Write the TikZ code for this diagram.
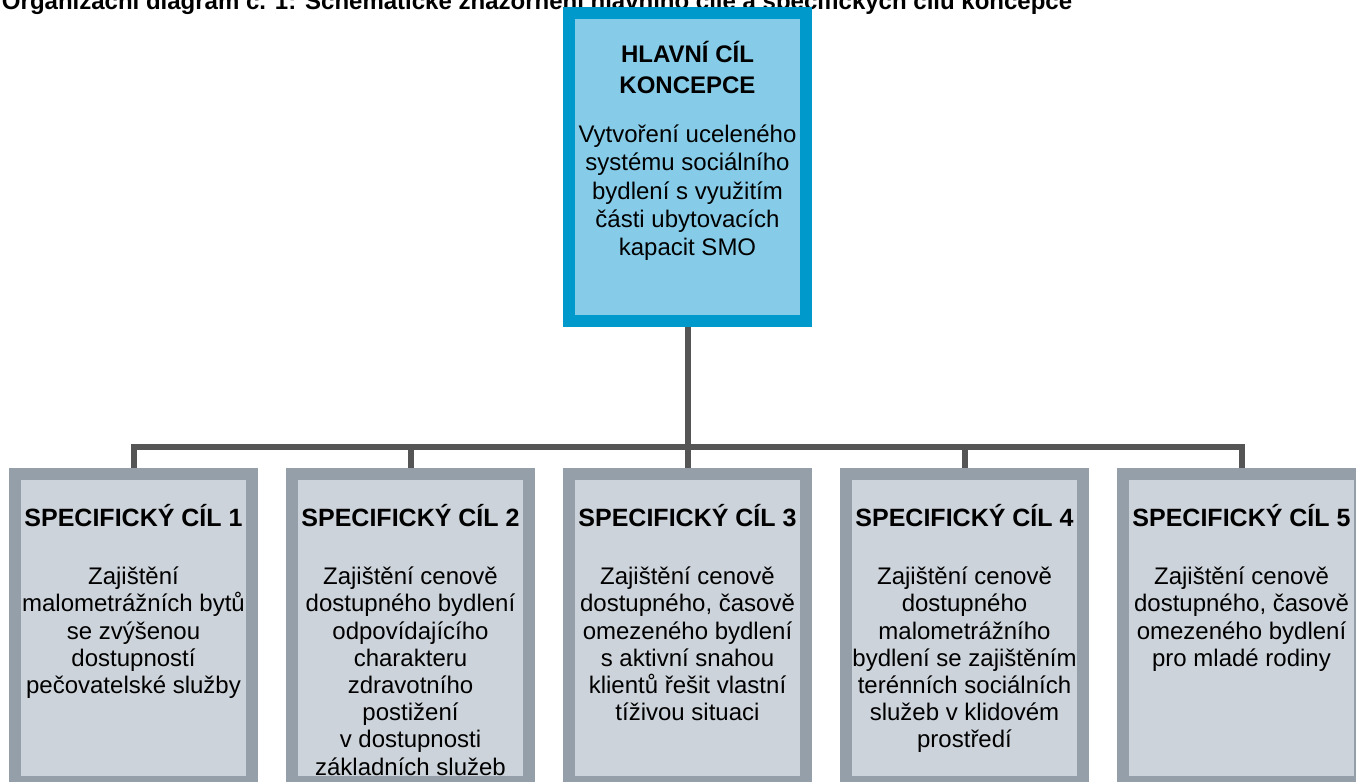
\documentclass[tikz,border=0pt]{standalone}
\usepackage{fontspec}
\setmainfont{Liberation Sans}
\usetikzlibrary{positioning}
\definecolor{goalblue}{RGB}{0,153,204}
\definecolor{goalfill}{RGB}{134,204,232}
\definecolor{subline}{RGB}{149,159,170}
\definecolor{subfill}{RGB}{205,211,218}
\definecolor{branchgray}{RGB}{85,85,85}
\tikzset{goal/.style = {draw=goalblue, fill=goalfill, line width=6pt, minimum width=118.5pt, minimum height=154pt, inner sep=0pt}}
\tikzset{subgoal/.style = {draw=subline, fill=subfill, line width=6pt, minimum width=118.5pt, minimum height=154pt, inner sep=0pt}}
\tikzset{heading/.style = {align=center, inner sep=0pt, outer sep=0pt, font=\bfseries\fontsize{12}{15.5}\selectfont}}
\tikzset{subhead/.style = {align=center, inner sep=0pt, outer sep=0pt, font=\bfseries\fontsize{12.5}{14}\selectfont}}
\tikzset{body/.style = {align=center, inner sep=0pt, outer sep=0pt, font=\fontsize{12}{13.6}\selectfont}}
\tikzset{mainbody/.style = {body, font=\fontsize{12}{14.1}\selectfont}}
\tikzset{caption/.style = {inner sep=0pt, outer sep=0pt, font=\bfseries\fontsize{12}{14}\selectfont}}
\tikzset{branch/.style = {draw=branchgray, line width=3pt}}

\begin{document}
\begin{tikzpicture}[node distance=14pt]
  \useasboundingbox (0,0) rectangle (678pt,391pt);
  \clip (0,0) rectangle (678pt,391pt);

  \node [caption, anchor=base west] (title) at (1pt,386pt) {Organizační diagram č. 1: Schematické znázornění hlavního cíle a specifických cílů koncepce};

  \node [goal] (main) at (343.75pt,307.5pt) {};
  \node [subgoal, below=70.5pt of main] (s3) {};
  \node [subgoal, left=of s3] (s2) {};
  \node [subgoal, left=of s2] (s1) {};
  \node [subgoal, right=of s3] (s4) {};
  \node [subgoal, right=of s4] (s5) {};

  \coordinate [below=60pt of main.south] (bar);
  \draw [branch] (main.south) -- (s3.north);
  \draw [branch] (s1.north) |- (bar) -| (s5.north);
  \draw [branch] (bar -| s2.north) -- (s2.north);
  \draw [branch] (bar -| s4.north) -- (s4.north);

  \node [heading, below=17pt of main.north] (mainhead) {HLAVNÍ CÍL\\KONCEPCE};
  \node [mainbody, below=59pt of main.north] (maintext) {Vytvoření uceleného\\systému sociálního\\bydlení s využitím\\části ubytovacích\\kapacit SMO};

  \node [subhead, below=18pt of s1.north] (h1) {SPECIFICKÝ CÍL 1};
  \node [subhead, below=18pt of s2.north] (h2) {SPECIFICKÝ CÍL 2};
  \node [subhead, below=18pt of s3.north] (h3) {SPECIFICKÝ CÍL 3};
  \node [subhead, below=18pt of s4.north] (h4) {SPECIFICKÝ CÍL 4};
  \node [subhead, below=18pt of s5.north] (h5) {SPECIFICKÝ CÍL 5};

  \node [body, below=49.5pt of s1.north] (t1) {Zajištění\\malometrážních bytů\\se zvýšenou\\dostupností\\pečovatelské služby};
  \node [body, below=49.5pt of s2.north] (t2) {Zajištění cenově\\dostupného bydlení\\odpovídajícího\\charakteru\\zdravotního\\postižení\\v dostupnosti\\základních služeb};
  \node [body, below=49.5pt of s3.north] (t3) {Zajištění cenově\\dostupného, časově\\omezeného bydlení\\s aktivní snahou\\klientů řešit vlastní\\tíživou situaci};
  \node [body, below=49.5pt of s4.north] (t4) {Zajištění cenově\\dostupného\\malometrážního\\bydlení se zajištěním\\terénních sociálních\\služeb v klidovém\\prostředí};
  \node [body, below=49.5pt of s5.north] (t5) {Zajištění cenově\\dostupného, časově\\omezeného bydlení\\pro mladé rodiny};
\end{tikzpicture}
\end{document}
